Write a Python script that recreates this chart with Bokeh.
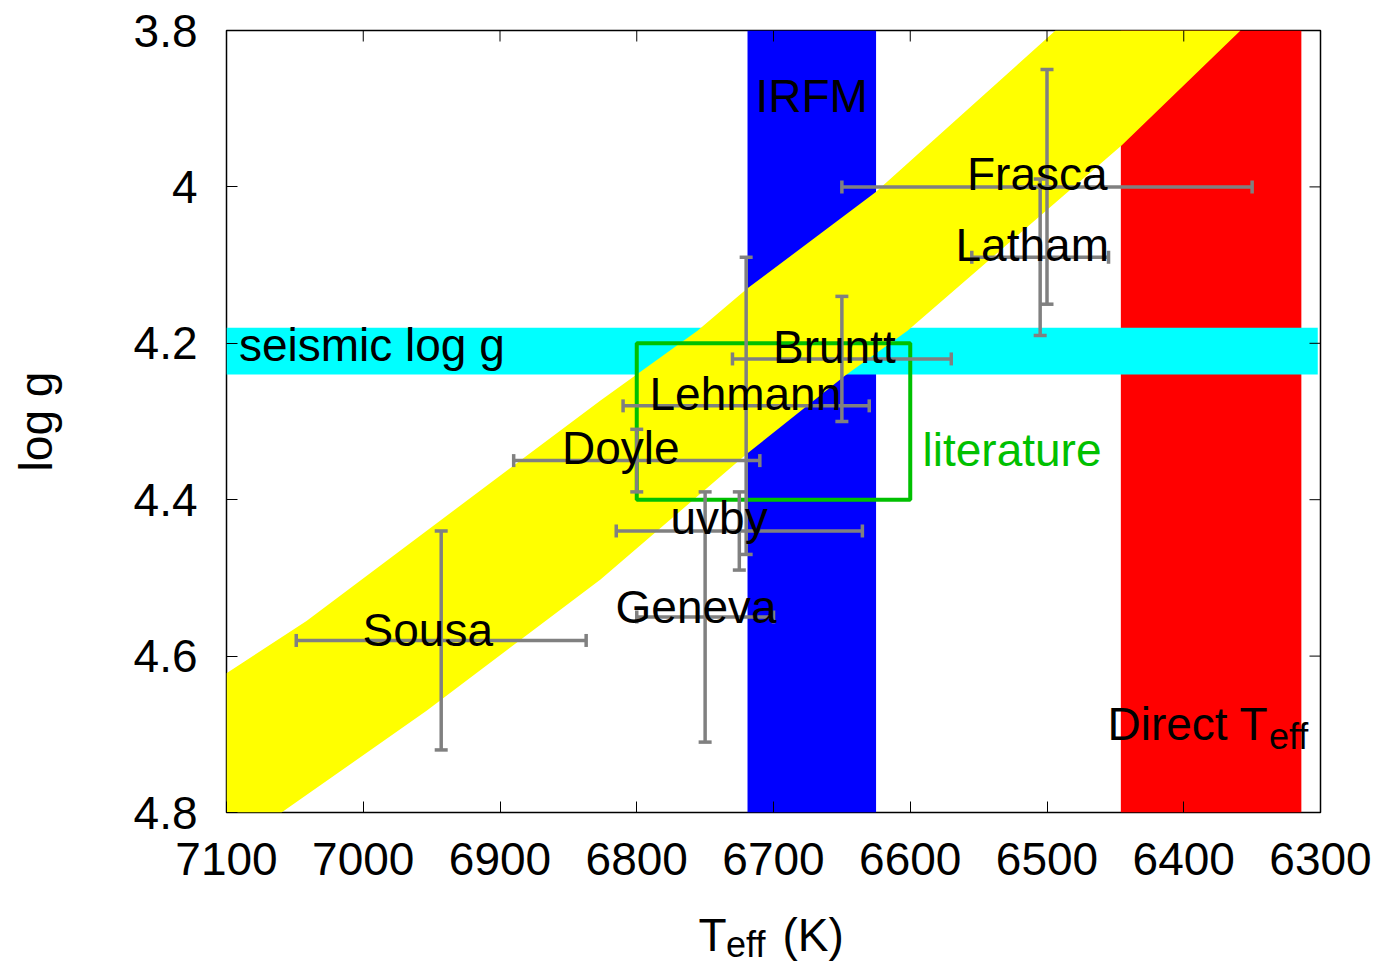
from bokeh.plotting import figure
from bokeh.layouts import column
from bokeh.models import (Range1d, FixedTicker, Whisker, TeeHead, ColumnDataSource)
from bokeh.core.properties import value
from bokeh.embed import file_html
from bokeh.resources import INLINE

FONT = "Liberation Sans"
GRAY = "#808080"
GREEN = "#00c000"

# ---------------- axes ----------------
teff_left, teff_right = 7100, 6300
logg_top, logg_bottom = 3.8, 4.8
xtick_values = [7100, 7000, 6900, 6800, 6700, 6600, 6500, 6400, 6300]
ytick_values = [3.8, 4.0, 4.2, 4.4, 4.6, 4.8]
ytick_labels = ["3.8", "4", "4.2", "4.4", "4.6", "4.8"]

# ---------------- measurements ----------------
names = ["Frasca", "Latham", "Bruntt", "Lehmann", "Doyle", "uvby", "Geneva", "Sousa"]
teff = [6500, 6505, 6650, 6720, 6800, 6725, 6750, 6943]
teff_err = [150, 50, 80, 90, 90, 90, 50, 106]
logg = [4.00, 4.09, 4.22, 4.28, 4.35, 4.44, 4.55, 4.58]
logg_err = [0.15, 0.10, 0.08, 0.19, 0.04, 0.05, 0.16, 0.14]

# ---------------- constraint regions ----------------
irfm_teff = [6719, 6625]
direct_teff = [6446, 6314]
seismic_teff = [7100, 6302]
seismic_logg = [4.18, 4.24]
lit_teff = [6800, 6600]
lit_logg = [4.2, 4.4]
band_upper_teff = [7100, 7041.5, 6826.5, 6755.6, 6719.2, 6625.4, 6493.8]
band_upper_logg = [4.622, 4.555, 4.273, 4.184, 4.130, 4.007, 3.8]
band_lower_teff = [7059.8, 6953.7, 6826.5, 6719.2, 6647.3, 6602.0, 6445.5, 6358.5]
band_lower_logg = [4.8, 4.670, 4.502, 4.341, 4.241, 4.184, 3.947, 3.8]

# ---------------- labels ----------------
label_text = ["seismic log g", "IRFM", "Frasca", "Latham", "Bruntt", "Lehmann",
              "Doyle", "uvby", "Geneva", "Sousa", "Direct T"]
label_teff = [7090.9, 6713.2, 6558.5, 6566.9, 6700.4, 6790.7,
              6854.7, 6775.3, 6815.5, 7000.5, 6455.8]
label_logg = [4.2016, 3.8832, 3.9829, 4.0737, 4.2042, 4.2643,
              4.3333, 4.4228, 4.5366, 4.5660, 4.6862]
lit_label = ["literature"]
lit_label_teff = [6591.0]
lit_label_logg = [4.3359]
sub_label = ["eff"]
sub_label_teff = [6337.7]
sub_label_logg = [4.7034]

# x-axis title pieces (T, subscript eff, (K)); y measured in px from the strip top
xtitle_main = ["T", "(K)"]
xtitle_main_teff = [6754.8, 6693.4]
xtitle_main_y = [34, 34]
xtitle_sub = ["eff"]
xtitle_sub_teff = [6734.7]
xtitle_sub_y = [44]
ytitle = "log g"

W = 1384
H_PLOT = 900
H_STRIP = 66

p = figure(width=W, height=H_PLOT, title=None,
           x_range=Range1d(teff_left, teff_right),
           y_range=Range1d(logg_bottom, logg_top),
           output_backend="svg", toolbar_location=None,
           min_border_left=226, min_border_right=64,
           min_border_top=30, min_border_bottom=88,
           background_fill_color="white", border_fill_color="white")
p.grid.visible = False
p.outline_line_color = "black"
p.outline_line_width = 1.5

# regions
p.quad(left=[direct_teff[0]], right=[direct_teff[1]], top=[logg_top], bottom=[logg_bottom],
       fill_color="#ff0000", line_color=None)
p.quad(left=[irfm_teff[0]], right=[irfm_teff[1]], top=[logg_top], bottom=[logg_bottom],
       fill_color="#0000ff", line_color=None)
p.quad(left=[seismic_teff[0]], right=[seismic_teff[1]], top=[seismic_logg[0]],
       bottom=[seismic_logg[1]], fill_color="#00ffff", line_color=None)
band_x = band_upper_teff + band_lower_teff[::-1] + [teff_left]
band_y = band_upper_logg + band_lower_logg[::-1] + [logg_bottom]
p.patch(band_x, band_y, fill_color="#ffff00", line_color=None)
p.quad(left=[lit_teff[0]], right=[lit_teff[1]], top=[lit_logg[0]], bottom=[lit_logg[1]],
       fill_color=None, line_color=GREEN, line_width=4)

# mirrored inward ticks on top and right edges
p.ray(x=xtick_values, y=[logg_top] * len(xtick_values), length=11, length_units="screen",
      angle=-90, angle_units="deg", line_color="black", line_width=1)
p.ray(x=[teff_right] * len(ytick_values), y=ytick_values, length=11, length_units="screen",
      angle=180, angle_units="deg", line_color="black", line_width=1)

# error bars
src = ColumnDataSource(dict(
    teff=teff, logg=logg,
    tlo=[t - e for t, e in zip(teff, teff_err)],
    thi=[t + e for t, e in zip(teff, teff_err)],
    glo=[g - e for g, e in zip(logg, logg_err)],
    ghi=[g + e for g, e in zip(logg, logg_err)],
))


def head():
    return TeeHead(size=13, line_color=GRAY, line_width=3.5)


wx = Whisker(source=src, base="logg", lower="tlo", upper="thi", dimension="width",
             line_color=GRAY, line_width=3.5, upper_head=head(), lower_head=head(),
             level="annotation")
wy = Whisker(source=src, base="teff", lower="glo", upper="ghi", dimension="height",
             line_color=GRAY, line_width=3.5, upper_head=head(), lower_head=head(),
             level="annotation")
p.add_layout(wx)
p.add_layout(wy)

# texts
tsrc = ColumnDataSource(dict(x=label_teff, y=label_logg, text=label_text))
p.text(x="x", y="y", text="text", source=tsrc, text_font=value(FONT),
       text_font_size="46px", text_color="black", text_baseline="alphabetic",
       text_align="left", level="overlay")
p.text(x=lit_label_teff, y=lit_label_logg, text=lit_label, text_font=value(FONT),
       text_font_size="46px", text_color=GREEN, text_baseline="alphabetic",
       text_align="left", level="overlay")
p.text(x=sub_label_teff, y=sub_label_logg, text=sub_label, text_font=value(FONT),
       text_font_size="36px", text_color="black", text_baseline="alphabetic",
       text_align="left", level="overlay")

# axes
xa = p.xaxis[0]
ya = p.yaxis[0]
xa.ticker = FixedTicker(ticks=xtick_values)
ya.ticker = FixedTicker(ticks=ytick_values)
ya.major_label_overrides = dict(zip(ytick_values, ytick_labels))
for ax in (xa, ya):
    ax.major_label_text_font = FONT
    ax.major_label_text_font_size = "46px"
    ax.major_label_text_color = "black"
    ax.major_tick_in = 11
    ax.major_tick_out = 0
    ax.major_tick_line_color = "black"
    ax.minor_tick_line_color = None
    ax.axis_line_color = None
xa.major_label_standoff = 30
ya.major_label_standoff = 29
ya.axis_label = ytitle
ya.axis_label_text_font = FONT
ya.axis_label_text_font_size = "46px"
ya.axis_label_text_font_style = "normal"
ya.axis_label_text_color = "black"
ya.axis_label_standoff = 69

# strip below the plot carrying the x-axis title (with subscript)
t = figure(width=W, height=H_STRIP, title=None, x_range=p.x_range,
           y_range=Range1d(H_STRIP, 0),
           output_backend="svg", toolbar_location=None, x_axis_type=None, y_axis_type=None,
           min_border_left=226, min_border_right=64, min_border_top=0, min_border_bottom=0,
           background_fill_color="white", border_fill_color="white")
t.grid.visible = False
t.outline_line_color = None
t.text(x=xtitle_main_teff, y=xtitle_main_y, text=xtitle_main, text_font=value(FONT),
       text_font_size="46px", text_color="black", text_baseline="alphabetic",
       text_align="left")
t.text(x=xtitle_sub_teff, y=xtitle_sub_y, text=xtitle_sub, text_font=value(FONT),
       text_font_size="36px", text_color="black", text_baseline="alphabetic",
       text_align="left")

layout = column(p, t, spacing=0)
open("out.html", "w").write(file_html(layout, INLINE))
